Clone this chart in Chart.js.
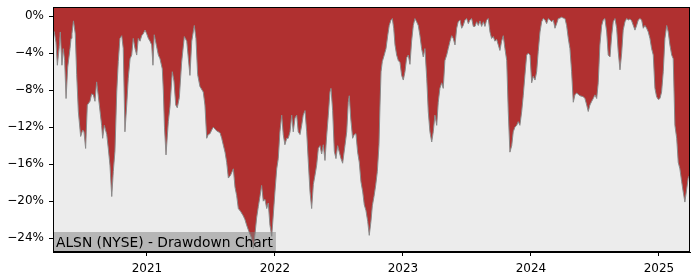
<!DOCTYPE html>
<html lang="en">
<head>
    <meta charset="UTF-8">
    <title>ALSN (NYSE) - Drawdown Chart</title>
    <script src="https://cdn.jsdelivr.net/npm/chart.js"></script>
    <style>
        body { margin: 0; background: #fff; }
        #wrap { width: 700px; height: 280px; }
    </style>
</head>
<body>
    <div id="wrap"><canvas id="ddChart" width="700" height="280"></canvas></div>

    <script>
        // dates as fractional years, drawdown in percent below the running peak
        const dates = [
            2020.266, 2020.276, 2020.289, 2020.300, 2020.315, 2020.323, 2020.336, 2020.346, 2020.357, 2020.368,
            2020.381, 2020.399, 2020.407, 2020.414, 2020.426, 2020.440, 2020.451, 2020.464, 2020.482, 2020.498,
            2020.508, 2020.521, 2020.534, 2020.555, 2020.568, 2020.581, 2020.594, 2020.607, 2020.628, 2020.646,
            2020.654, 2020.667, 2020.686, 2020.698, 2020.711, 2020.725, 2020.737, 2020.750, 2020.764, 2020.776,
            2020.789, 2020.803, 2020.815, 2020.828, 2020.842, 2020.854, 2020.868, 2020.881, 2020.893, 2020.907,
            2020.920, 2020.932, 2020.946, 2020.959, 2020.971, 2020.985, 2020.998, 2021.011, 2021.024, 2021.037,
            2021.047, 2021.057, 2021.076, 2021.089, 2021.102, 2021.120, 2021.128, 2021.137, 2021.149, 2021.167,
            2021.180, 2021.198, 2021.211, 2021.225, 2021.237, 2021.253, 2021.271, 2021.292, 2021.311, 2021.323,
            2021.336, 2021.350, 2021.370, 2021.383, 2021.396, 2021.414, 2021.440, 2021.453, 2021.467, 2021.479,
            2021.493, 2021.506, 2021.518, 2021.532, 2021.545, 2021.571, 2021.584, 2021.596, 2021.610, 2021.623,
            2021.636, 2021.653, 2021.675, 2021.688, 2021.701, 2021.714, 2021.731, 2021.753, 2021.766, 2021.779,
            2021.797, 2021.818, 2021.831, 2021.844, 2021.857, 2021.870, 2021.883, 2021.896, 2021.909, 2021.922,
            2021.936, 2021.948, 2021.961, 2021.975, 2021.987, 2022.000, 2022.014, 2022.026, 2022.039, 2022.053,
            2022.065, 2022.078, 2022.092, 2022.104, 2022.118, 2022.131, 2022.143, 2022.157, 2022.170, 2022.182,
            2022.196, 2022.209, 2022.221, 2022.235, 2022.248, 2022.261, 2022.274, 2022.287, 2022.300, 2022.313,
            2022.326, 2022.339, 2022.352, 2022.365, 2022.378, 2022.391, 2022.404, 2022.417, 2022.430, 2022.438,
            2022.451, 2022.464, 2022.477, 2022.490, 2022.503, 2022.516, 2022.529, 2022.547, 2022.561, 2022.573,
            2022.581, 2022.592, 2022.607, 2022.620, 2022.633, 2022.646, 2022.659, 2022.672, 2022.686, 2022.698,
            2022.711, 2022.725, 2022.737, 2022.750, 2022.761, 2022.774, 2022.787, 2022.800, 2022.813, 2022.821,
            2022.829, 2022.839, 2022.854, 2022.868, 2022.881, 2022.893, 2022.907, 2022.917, 2022.928, 2022.938,
            2022.951, 2022.964, 2022.977, 2022.990, 2023.003, 2023.016, 2023.029, 2023.042, 2023.055, 2023.068,
            2023.081, 2023.094, 2023.107, 2023.120, 2023.133, 2023.146, 2023.159, 2023.172, 2023.186, 2023.198,
            2023.211, 2023.225, 2023.237, 2023.250, 2023.264, 2023.276, 2023.289, 2023.303, 2023.315, 2023.328,
            2023.342, 2023.354, 2023.368, 2023.381, 2023.393, 2023.407, 2023.420, 2023.432, 2023.446, 2023.459,
            2023.471, 2023.485, 2023.498, 2023.511, 2023.524, 2023.537, 2023.550, 2023.563, 2023.576, 2023.589,
            2023.602, 2023.615, 2023.628, 2023.641, 2023.654, 2023.667, 2023.680, 2023.693, 2023.706, 2023.719,
            2023.732, 2023.745, 2023.758, 2023.771, 2023.784, 2023.797, 2023.811, 2023.823, 2023.836, 2023.850,
            2023.862, 2023.875, 2023.889, 2023.901, 2023.914, 2023.928, 2023.940, 2023.953, 2023.967, 2023.979,
            2023.993, 2024.006, 2024.018, 2024.032, 2024.045, 2024.057, 2024.071, 2024.084, 2024.096, 2024.110,
            2024.123, 2024.136, 2024.149, 2024.162, 2024.175, 2024.188, 2024.201, 2024.214, 2024.227, 2024.240,
            2024.253, 2024.266, 2024.279, 2024.292, 2024.305, 2024.318, 2024.331, 2024.344, 2024.357, 2024.383,
            2024.409, 2024.422, 2024.436, 2024.448, 2024.461, 2024.475, 2024.487, 2024.500, 2024.514, 2024.526,
            2024.539, 2024.553, 2024.565, 2024.578, 2024.592, 2024.604, 2024.618, 2024.631, 2024.643, 2024.657,
            2024.670, 2024.682, 2024.696, 2024.709, 2024.721, 2024.735, 2024.748, 2024.761, 2024.774, 2024.787,
            2024.800, 2024.813, 2024.826, 2024.839, 2024.852, 2024.865, 2024.878, 2024.891, 2024.904, 2024.917,
            2024.930, 2024.943, 2024.956, 2024.969, 2024.982, 2024.995, 2025.008, 2025.021, 2025.034, 2025.047,
            2025.061, 2025.073, 2025.086, 2025.100, 2025.112, 2025.125, 2025.139, 2025.151, 2025.164, 2025.178,
            2025.190, 2025.203, 2025.217, 2025.229, 2025.243
        ];

        const drawdown = [
            -1.5, -1.7, -2.8, -5.3, -3.3, -1.7, -5.3, -3.5, -4.8, -8.9,
            -5.5, -3.5, -2.4, -1.9, -0.5, -1.9, -6.3, -10.3, -13.0, -12.3,
            -12.5, -14.3, -9.6, -9.2, -8.4, -8.5, -9.2, -7.1, -9.6, -11.8,
            -13.2, -11.8, -12.8, -14.3, -16.1, -19.5, -16.8, -14.6, -8.2, -4.9,
            -2.4, -2.1, -3.5, -12.5, -9.6, -6.7, -4.6, -4.2, -2.4, -3.5,
            -4.2, -2.4, -2.7, -2.1, -1.9, -1.5, -1.9, -2.4, -2.7, -3.1,
            -5.3, -2.0, -3.3, -4.2, -4.6, -5.7, -8.0, -12.0, -15.0, -11.4,
            -9.8, -6.0, -7.0, -9.6, -9.9, -8.8, -5.0, -2.2, -2.7, -4.5,
            -6.4, -2.7, -1.0, -2.4, -6.3, -7.6, -8.2, -9.6, -13.2, -12.8,
            -12.7, -12.3, -12.0, -12.2, -12.4, -12.6, -13.2, -13.9, -14.7, -15.8,
            -17.5, -17.2, -16.5, -18.5, -19.4, -20.8, -21.1, -21.6, -22.0, -22.6,
            -23.3, -24.0, -25.1, -23.6, -21.8, -20.6, -19.5, -18.3, -20.0, -19.8,
            -20.8, -20.2, -22.6, -23.8, -21.5, -19.0, -16.5, -15.4, -12.5, -10.7,
            -12.8, -13.9, -13.2, -13.2, -12.5, -10.7, -12.5, -11.0, -10.7, -12.5,
            -12.8, -11.8, -10.7, -10.2, -12.5, -15.8, -19.0, -20.8, -18.2, -17.2,
            -16.1, -14.3, -14.0, -14.9, -13.9, -15.6, -13.0, -10.7, -8.2, -7.8,
            -10.2, -14.6, -15.4, -14.0, -14.7, -15.4, -15.9, -14.0, -12.5, -9.3,
            -8.6, -11.0, -13.2, -12.8, -12.7, -14.7, -15.8, -17.9, -19.0, -20.4,
            -21.0, -22.2, -23.7, -22.2, -20.5, -19.5, -18.3, -16.8, -13.9, -9.6,
            -6.0, -4.9, -4.2, -3.5, -2.1, -1.0, -0.4, -0.25, -1.3, -3.1,
            -4.2, -4.8, -5.0, -6.4, -6.9, -6.0, -4.5, -4.2, -5.2, -2.7,
            -1.0, -0.25, -0.6, -1.0, -2.1, -3.5, -4.4, -3.5, -6.7, -10.3,
            -12.5, -13.6, -12.5, -10.7, -11.8, -9.3, -7.8, -7.2, -7.8, -4.8,
            -4.2, -3.5, -2.7, -2.1, -2.4, -3.1, -1.3, -0.6, -0.4, -1.3,
            -1.0, -0.4, -0.25, -0.8, -0.4, -0.25, -1.1, -1.1, -0.6, -1.0,
            -0.5, -1.1, -0.6, -1.1, -0.4, -0.25, -1.7, -2.4, -2.2, -2.7,
            -2.5, -3.1, -3.7, -2.7, -2.1, -3.5, -4.8, -10.3, -14.7, -14.0,
            -12.5, -12.0, -11.8, -11.4, -11.8, -10.3, -8.6, -6.4, -4.2, -4.0,
            -4.2, -7.2, -6.5, -6.9, -6.0, -3.8, -1.7, -0.6, -0.25, -0.4,
            -0.8, -0.25, -0.4, -0.6, -0.4, -1.3, -0.8, -0.25, -0.2, -0.1,
            -0.2, -0.25, -1.0, -2.4, -3.5, -6.0, -9.3, -8.5, -8.3, -8.6,
            -8.7, -8.9, -9.6, -10.3, -9.6, -9.2, -8.9, -8.5, -8.9, -7.2,
            -3.1, -1.0, -0.4, -0.25, -1.7, -4.2, -4.4, -2.1, -0.6, -0.25,
            -1.3, -3.8, -5.8, -4.0, -1.5, -0.6, -0.25, -0.4, -0.3, -0.5,
            -1.0, -1.5, -1.0, -0.4, -0.25, -0.4, -1.3, -1.0, -1.3, -1.7,
            -2.4, -3.5, -4.2, -7.8, -8.7, -9.0, -8.9, -8.2, -6.0, -2.4,
            -1.0, -1.7, -3.1, -4.2, -4.6, -11.8, -13.2, -15.8, -16.5, -17.9,
            -19.0, -20.1, -18.7, -17.5, -17.1
        ];

        const xTicks = [2021, 2022, 2023, 2024, 2025];
        const yTicks = [0, -4, -8, -12, -16, -20, -24];
        const chartLabel = 'ALSN (NYSE) - Drawdown Chart';

        const points = dates.map((d, i) => ({ x: d, y: drawdown[i] }));

        // grey plot background, full frame and the caption box
        const frame = {
            id: 'frame',
            beforeDraw(chart) {
                const { ctx, chartArea: a } = chart;
                ctx.save();
                ctx.fillStyle = '#ececec';
                ctx.fillRect(a.left, a.top, a.right - a.left, a.bottom - a.top);
                ctx.restore();
            },
            afterDraw(chart) {
                const { ctx, chartArea: a } = chart;
                ctx.save();
                ctx.font = '13.8px "DejaVu Sans"';
                const w = ctx.measureText(chartLabel).width + 6;
                ctx.fillStyle = 'rgba(128,128,128,0.5)';
                ctx.fillRect(a.left, a.bottom - 20, w, 20);
                ctx.fillStyle = '#000';
                ctx.textBaseline = 'alphabetic';
                ctx.fillText(chartLabel, a.left + 3, a.bottom - 5);
                ctx.strokeStyle = '#000';
                ctx.lineWidth = 1;
                ctx.strokeRect(a.left + 0.5, a.top + 0.5, a.right - a.left - 1, a.bottom - a.top - 1);
                ctx.restore();
            }
        };

        new Chart(document.getElementById('ddChart'), {
            type: 'line',
            data: {
                datasets: [{
                    data: points,
                    borderColor: '#8a8a8a',
                    borderWidth: 1,
                    backgroundColor: '#b03030',
                    fill: 'end',
                    pointRadius: 0,
                    tension: 0
                }]
            },
            options: {
                responsive: false,
                animation: false,
                layout: { padding: { top: 7, right: 10, left: 0, bottom: 0 } },
                plugins: { legend: { display: false }, tooltip: { enabled: false } },
                scales: {
                    x: {
                        type: 'linear',
                        min: 2020.266,
                        max: 2025.243,
                        afterBuildTicks: s => { s.ticks = xTicks.map(v => ({ value: v })); },
                        afterFit: s => { s.height = 28; s.paddingLeft = 0; s.paddingRight = 0; },
                        ticks: {
                            autoSkip: false,
                            maxRotation: 0,
                            padding: 6,
                            color: '#000',
                            font: { family: 'DejaVu Sans', size: 12 },
                            callback: v => String(v)
                        },
                        grid: { drawOnChartArea: false, drawTicks: true, tickLength: 4, color: '#000' },
                        border: { display: true, color: '#000' }
                    },
                    y: {
                        min: -25.5,
                        max: 1,
                        afterBuildTicks: s => { s.ticks = yTicks.map(v => ({ value: v })); },
                        afterFit: s => { s.width = 53; s.paddingTop = 0; s.paddingBottom = 0; },
                        ticks: {
                            autoSkip: false,
                            padding: 5,
                            color: '#000',
                            font: { family: 'DejaVu Sans', size: 12 },
                            callback: v => (v < 0 ? '\u2212' + Math.abs(v) : v) + '%'
                        },
                        grid: { drawOnChartArea: false, drawTicks: true, tickLength: 4, color: '#000' },
                        border: { display: true, color: '#000' }
                    }
                }
            },
            plugins: [frame]
        });
    </script>
</body>
</html>
